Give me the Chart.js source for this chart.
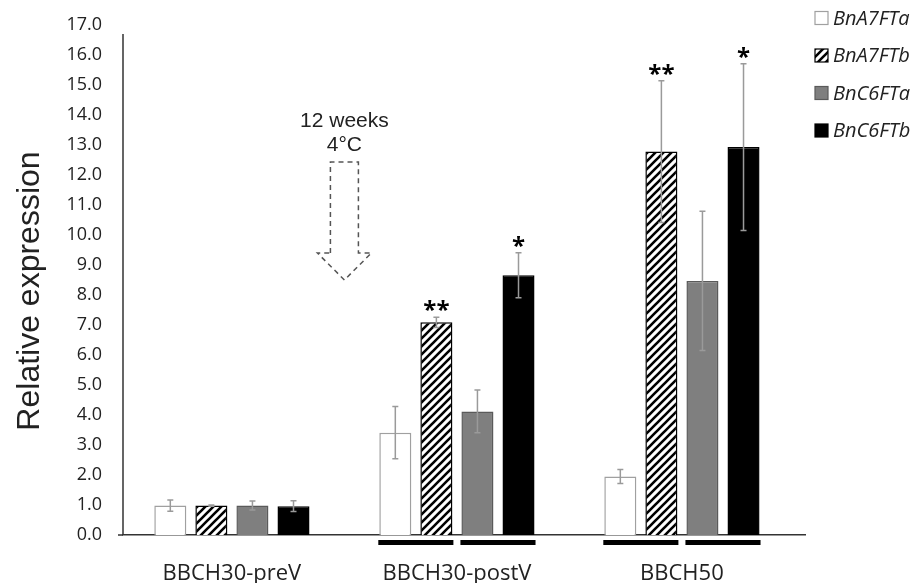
<!DOCTYPE html>
<html>
<head>
<meta charset="utf-8">
<script src="https://cdn.jsdelivr.net/npm/chart.js@4"></script>
<style>
  html, body { margin: 0; padding: 0; background: #fff; }
  canvas { display: block; }
</style>
</head>
<body>
<canvas id="chart" width="915" height="583"></canvas>
<script>
// data
const categories = ["BBCH30-preV", "BBCH30-postV", "BBCH50"];
const seriesNames = ["BnA7FTa", "BnA7FTb", "BnC6FTa", "BnC6FTb"];

const a7a = [0.98, 3.41, 1.95];
const a7b = [0.98, 7.09, 12.78];
const c6a = [0.98, 4.12, 8.47];
const c6b = [0.96, 8.66, 12.93];

const a7aErr = [0.19, 0.87, 0.23];
const a7bErr = [0.02, 0.17, 2.36];
const c6aErr = [0.15, 0.71, 2.32];
const c6bErr = [0.18, 0.75, 2.78];

const a7aStars = ["", "", ""];
const a7bStars = ["", "**", "**"];
const c6aStars = ["", "", ""];
const c6bStars = ["", "*", "*"];

const underlined = [false, true, true];

const yTicks = [0, 1, 2, 3, 4, 5, 6, 7, 8, 9, 10, 11, 12, 13, 14, 15, 16, 17];

// cold treatment arrow (in axis units)
const arrowText = ["12 weeks", "4°C"];
const arrowTextY = [13.8, 13.0];
const arrowX = 0.5;
const arrowTop = 12.43;
const arrowBase = 9.4;
const arrowTip = 8.5;

function hatch() {
    const c = document.createElement("canvas");
    c.width = 8;
    c.height = 8;
    const g = c.getContext("2d");
    g.fillStyle = "#fff";
    g.fillRect(0, 0, 8, 8);
    g.strokeStyle = "#000";
    g.lineWidth = 2.6;
    g.beginPath();
    g.moveTo(-2, 10); g.lineTo(10, -2);
    g.moveTo(-2, 2); g.lineTo(2, -2);
    g.moveTo(6, 10); g.lineTo(10, 6);
    g.stroke();
    return g.createPattern(c, "repeat");
}

const hatchFill = hatch();
const fills = ["#ffffff", hatchFill, "#7f7f7f", "#000000"];
const borders = ["#a0a0a0", "#000000", "#5a5a5a", "#000000"];
const values = [a7a, a7b, c6a, c6b];
const errors = [a7aErr, a7bErr, c6aErr, c6bErr];
const stars = [a7aStars, a7bStars, c6aStars, c6bStars];

const datasets = seriesNames.map((name, d) => ({
    label: name,
    data: values[d].map((v, i) => ({ x: i, y: v })),
    backgroundColor: fills[d],
    borderColor: borders[d],
    borderWidth: 1.5,
    categoryPercentage: 0.73,
    barPercentage: 0.78
}));

const decorations = {
    id: "decorations",
    afterDatasetsDraw(chart) {
        const ctx = chart.ctx;
        const xs = chart.scales.x;
        const ys = chart.scales.y;
        const area = chart.chartArea;

        // error bars and significance stars
        datasets.forEach((ds, d) => {
            const meta = chart.getDatasetMeta(d);
            meta.data.forEach((bar, i) => {
                const v = values[d][i];
                const e = errors[d][i];
                const top = ys.getPixelForValue(v + e);
                const bot = ys.getPixelForValue(v - e);
                ctx.save();
                ctx.strokeStyle = "#9a9a9a";
                ctx.lineWidth = 1.5;
                ctx.beginPath();
                ctx.moveTo(bar.x, top); ctx.lineTo(bar.x, bot);
                ctx.moveTo(bar.x - 3, top); ctx.lineTo(bar.x + 3, top);
                ctx.moveTo(bar.x - 3, bot); ctx.lineTo(bar.x + 3, bot);
                ctx.stroke();
                if (stars[d][i]) {
                    ctx.fillStyle = "#000";
                    ctx.font = "bold 24px 'Open Sans'";
                    ctx.textAlign = "center";
                    ctx.textBaseline = "alphabetic";
                    ctx.fillText(stars[d][i], bar.x, top + 1);
                }
                ctx.restore();
            });
        });

        // thick lines under the paired bars
        const m = datasets.map((ds, d) => chart.getDatasetMeta(d));
        ctx.save();
        ctx.fillStyle = "#000";
        categories.forEach((c, i) => {
            if (!underlined[i]) return;
            [[0, 1], [2, 3]].forEach(([a, b]) => {
                const l = m[a].data[i];
                const r = m[b].data[i];
                const x0 = l.x - l.width / 2 - 1;
                const x1 = r.x + r.width / 2 + 1;
                ctx.fillRect(x0, area.bottom + 5, x1 - x0, 5);
            });
        });
        ctx.restore();

        // y axis line, stops short of the top tick
        ctx.save();
        ctx.strokeStyle = "#333";
        ctx.lineWidth = 1.5;
        ctx.beginPath();
        ctx.moveTo(area.left, ys.getPixelForValue(16.7));
        ctx.lineTo(area.left, area.bottom);
        ctx.moveTo(area.left - 5, area.bottom);
        ctx.lineTo(area.left, area.bottom);
        ctx.stroke();
        ctx.restore();

        // dashed arrow with label
        const ax = xs.getPixelForValue(arrowX);
        const t = ys.getPixelForValue(arrowTop);
        const b = ys.getPixelForValue(arrowBase);
        const tip = ys.getPixelForValue(arrowTip);
        ctx.save();
        ctx.strokeStyle = "#555";
        ctx.lineWidth = 1.5;
        ctx.setLineDash([5, 4]);
        ctx.beginPath();
        ctx.moveTo(ax - 14, b);
        ctx.lineTo(ax - 14, t);
        ctx.lineTo(ax + 14, t);
        ctx.lineTo(ax + 14, b);
        ctx.lineTo(ax + 27, b);
        ctx.lineTo(ax, tip);
        ctx.lineTo(ax - 27, b);
        ctx.closePath();
        ctx.stroke();
        ctx.setLineDash([]);
        ctx.fillStyle = "#222";
        ctx.font = "21px 'Liberation Sans'";
        ctx.textAlign = "center";
        ctx.textBaseline = "middle";
        arrowText.forEach((s, k) => ctx.fillText(s, ax, ys.getPixelForValue(arrowTextY[k])));
        ctx.restore();
    },
    afterDraw(chart) {
        const ctx = chart.ctx;
        // y axis title
        ctx.save();
        ctx.translate(30, 291);
        ctx.rotate(-Math.PI / 2);
        ctx.fillStyle = "#222";
        ctx.font = "32px 'Liberation Sans'";
        ctx.textAlign = "center";
        ctx.textBaseline = "middle";
        ctx.fillText("Relative expression", 0, 0);
        ctx.restore();

        // legend on the right
        ctx.save();
        ctx.font = "italic 20px 'Open Sans'";
        ctx.textBaseline = "middle";
        ctx.textAlign = "left";
        seriesNames.forEach((name, d) => {
            const y = 18 + d * 37.5;
            ctx.fillStyle = fills[d];
            ctx.fillRect(815, y - 6.5, 13, 13);
            ctx.strokeStyle = borders[d];
            ctx.lineWidth = 1.2;
            ctx.strokeRect(815, y - 6.5, 13, 13);
            ctx.fillStyle = "#222";
            ctx.fillText(name, 833, y + 1);
        });
        ctx.restore();
    }
};

new Chart(document.getElementById("chart"), {
    type: "bar",
    data: { datasets: datasets },
    options: {
        responsive: false,
        animation: false,
        devicePixelRatio: 1,
        layout: { padding: { top: 0, right: 110, bottom: 0, left: 0 } },
        plugins: {
            legend: { display: false },
            tooltip: { enabled: false }
        },
        scales: {
            x: {
                type: "linear",
                min: -0.484,
                max: 2.547,
                offset: false,
                grid: { display: false, offset: false },
                border: { display: true, color: "#333", width: 1.5 },
                afterBuildTicks: (scale) => {
                    scale.ticks = categories.map((c, i) => ({ value: i }));
                },
                afterFit: (scale) => { scale.height = 48; },
                ticks: {
                    padding: 18,
                    color: "#222",
                    font: { family: "'Open Sans'", size: 22 },
                    maxRotation: 0,
                    autoSkip: false,
                    callback: (v) => categories[v]
                }
            },
            y: {
                min: 0,
                max: 17,
                grid: { display: false, drawTicks: false },
                border: { display: false },
                afterBuildTicks: (scale) => {
                    scale.ticks = yTicks.map(v => ({ value: v }));
                },
                afterFit: (scale) => {
                    scale.width = 123;
                    scale.paddingTop = 25;
                },
                ticks: {
                    padding: 21,
                    color: "#222",
                    font: { family: "'Open Sans'", size: 18 },
                    callback: (v) => v.toFixed(1)
                }
            }
        }
    },
    plugins: [decorations]
});
</script>
</body>
</html>
